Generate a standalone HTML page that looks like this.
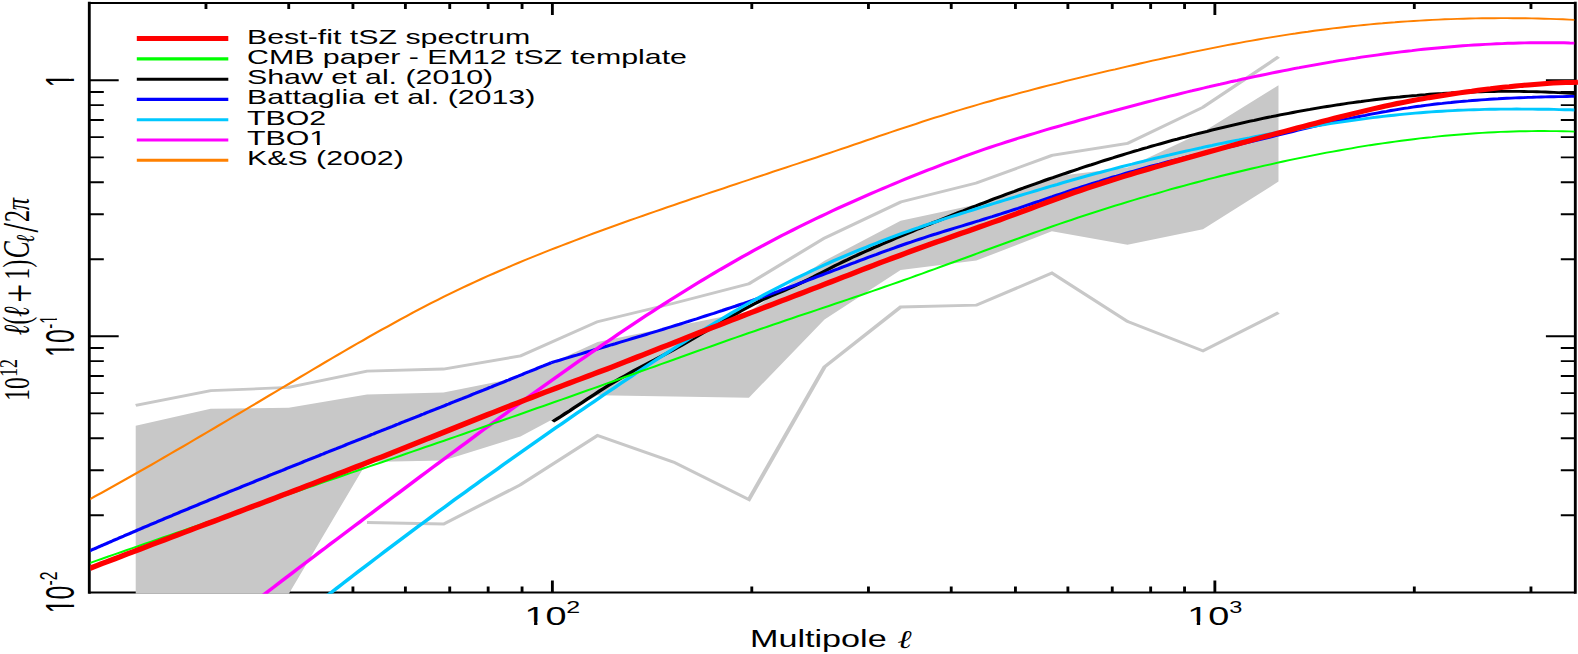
<!DOCTYPE html>
<html><head><meta charset="utf-8"><title>tSZ power spectrum</title>
<style>html,body{margin:0;padding:0;background:#fff;overflow:hidden}svg{display:block}text{font-family:"Liberation Sans",sans-serif;fill:#000}.m{font-family:"DejaVu Math TeX Gyre","DejaVu Serif",serif}.s{font-family:"Liberation Serif",serif}.si{font-family:"Liberation Serif",serif;font-style:italic}</style></head><body>
<svg width="1578" height="654" viewBox="0 0 1578 654">
<rect width="1578" height="654" fill="#fff"/>
<defs><clipPath id="k1"><path d="M-2,-20H30V-2.3H6.8V0.4H5.03V-2.3H-2Z"/></clipPath><clipPath id="k10"><path d="M-2,-20H30V0.6H11.2V-2.3H6.8V0.4H5.03V-2.3H-2Z"/></clipPath><clipPath id="ks1"><path d="M-2,-14H20V-1.45H8.34V0.3H7.25V-1.45H-2Z"/></clipPath><clipPath id="kt1"><path d="M-2,-20H60V-2.3H47.92V0.4H46.15V-2.3H41.5V0.6H-2Z"/></clipPath></defs>
<defs><clipPath id="c"><rect x="60.20" y="3.0" width="989.33" height="590.7"/></clipPath><clipPath id="c2"><rect x="60.20" y="3.0" width="992.47" height="590.7"/></clipPath></defs>
<g transform="scale(1.500,1)" fill="none">
<g stroke="#000" stroke-width="1.9">
<path d="M59.53,1.8V593.7M1050.20,1.8V593.7M137.31,3.0v6.0M137.31,592.5v-6.0M192.49,3.0v6.0M192.49,592.5v-6.0M235.29,3.0v6.0M235.29,592.5v-6.0M270.26,3.0v6.0M270.26,592.5v-6.0M299.83,3.0v6.0M299.83,592.5v-6.0M325.44,3.0v6.0M325.44,592.5v-6.0M348.04,3.0v6.0M348.04,592.5v-6.0M368.25,3.0v12.0M368.25,592.5v-12.0M501.20,3.0v6.0M501.20,592.5v-6.0M578.97,3.0v6.0M578.97,592.5v-6.0M634.15,3.0v6.0M634.15,592.5v-6.0M676.96,3.0v6.0M676.96,592.5v-6.0M711.93,3.0v6.0M711.93,592.5v-6.0M741.50,3.0v6.0M741.50,592.5v-6.0M767.11,3.0v6.0M767.11,592.5v-6.0M789.70,3.0v6.0M789.70,592.5v-6.0M809.91,3.0v12.0M809.91,592.5v-12.0M942.87,3.0v6.0M942.87,592.5v-6.0M1020.64,3.0v6.0M1020.64,592.5v-6.0M59.53,515.2h9.67M1050.20,515.2h-9.67M59.53,470.2h9.67M1050.20,470.2h-9.67M59.53,438.2h9.67M1050.20,438.2h-9.67M59.53,413.4h9.67M1050.20,413.4h-9.67M59.53,393.1h9.67M1050.20,393.1h-9.67M59.53,376.0h9.67M1050.20,376.0h-9.67M59.53,361.1h9.67M1050.20,361.1h-9.67M59.53,348.0h9.67M1050.20,348.0h-9.67M59.53,336.3h19.60M1050.20,336.3h-19.60M59.53,259.2h9.67M1050.20,259.2h-9.67M59.53,214.2h9.67M1050.20,214.2h-9.67M59.53,182.2h9.67M1050.20,182.2h-9.67M59.53,157.4h9.67M1050.20,157.4h-9.67M59.53,137.1h9.67M1050.20,137.1h-9.67M59.53,120.0h9.67M1050.20,120.0h-9.67M59.53,105.1h9.67M1050.20,105.1h-9.67M59.53,92.0h9.67M1050.20,92.0h-9.67M59.53,80.3h19.60M1050.20,80.3h-19.60"/>
<path stroke-width="2.2" d="M59.53,3.0H1050.20M59.53,592.5H1050.20"/>
</g>
<g clip-path="url(#c)">
<path d="M90.47,425.8 L140.48,408.8 L192.49,407.8 L244.65,394.5 L295.68,392.5 L346.97,377.2 L398.36,342.0 L449.19,326.5 L499.27,311.5 L549.67,260.8 L600.43,220.8 L650.90,204.6 L701.25,176.8 L751.64,167.4 L801.98,132.0 L852.33,85.2 L852.33,181.6 L801.98,229.2 L751.64,244.8 L701.25,231.2 L650.90,260.6 L600.43,270.0 L549.67,319.4 L499.27,397.7 L449.19,396.5 L398.36,395.2 L346.97,436.4 L295.68,460.4 L244.65,462.0 L192.49,594.0 L140.48,700.0 L90.47,700.0Z" fill="#c8c8c8"/>
<path d="M90.47,405.3 L140.48,390.7 L192.49,387.4 L244.65,371.1 L295.68,369.0 L346.97,355.9 L398.36,321.7 L449.19,303.2 L499.27,283.8 L549.67,238.0 L600.43,202.0 L650.90,183.0 L701.25,155.4 L751.64,143.4 L801.98,107.3 L852.33,56.8" stroke="#c8c8c8" stroke-width="2.8" stroke-linejoin="miter"/>
<path d="M244.65,522.5 L295.68,524.0 L346.97,484.8 L398.36,435.5 L449.19,462.2 L499.27,499.5 L549.67,366.9 L600.43,307.0 L650.90,305.2 L701.25,273.1 L751.64,321.5 L801.98,350.9 L852.33,312.6" stroke="#c8c8c8" stroke-width="2.8" stroke-linejoin="miter"/>
</g>
<path clip-path="url(#c)" d="M368.47,421.5 L371.32,418.9 L374.17,416.2 L377.02,413.4 L379.88,410.7 L382.73,407.8 L385.58,405.0 L388.43,402.2 L391.29,399.3 L394.14,396.5 L396.99,393.7 L399.84,390.9 L402.70,388.2 L405.55,385.5 L408.40,382.9 L411.25,380.4 L414.11,377.9 L416.96,375.5 L419.81,373.1 L422.66,370.7 L425.52,368.4 L428.37,366.1 L431.22,363.9 L434.07,361.6 L436.93,359.4 L439.78,357.1 L442.63,354.9 L445.48,352.6 L448.34,350.3 L451.19,347.9 L454.04,345.6 L456.89,343.2 L459.74,340.7 L462.60,338.2 L465.45,335.7 L468.30,333.2 L471.15,330.7 L474.01,328.2 L476.86,325.6 L479.71,323.1 L482.56,320.6 L485.42,318.2 L488.27,315.7 L491.12,313.3 L493.97,310.9 L496.83,308.6 L499.68,306.3 L502.53,304.1 L505.38,302.0 L508.24,299.9 L511.09,298.0 L513.94,296.1 L516.79,294.2 L519.65,292.5 L522.50,290.7 L525.35,288.9 L528.20,287.0 L531.06,285.1 L533.91,283.0 L536.76,280.9 L539.61,278.8 L542.47,276.7 L545.32,274.5 L548.17,272.3 L551.02,270.1 L553.88,267.9 L556.73,265.7 L559.58,263.6 L562.43,261.5 L565.29,259.5 L568.14,257.4 L570.99,255.5 L573.84,253.5 L576.69,251.6 L579.55,249.7 L582.40,247.8 L585.25,246.0 L588.10,244.1 L590.96,242.3 L593.81,240.5 L596.66,238.6 L599.51,236.8 L602.37,235.0 L605.22,233.2 L608.07,231.4 L610.92,229.6 L613.78,227.9 L616.63,226.1 L619.48,224.4 L622.33,222.6 L625.19,220.9 L628.04,219.2 L630.89,217.4 L633.74,215.7 L636.60,214.0 L639.45,212.3 L642.30,210.7 L645.15,209.0 L648.01,207.3 L650.86,205.7 L653.71,204.0 L656.56,202.4 L659.42,200.8 L662.27,199.1 L665.12,197.5 L667.97,195.9 L670.83,194.3 L673.68,192.7 L676.53,191.2 L679.38,189.6 L682.24,188.1 L685.09,186.5 L687.94,185.0 L690.79,183.5 L693.64,181.9 L696.50,180.4 L699.35,178.9 L702.20,177.5 L705.05,176.0 L707.91,174.5 L710.76,173.1 L713.61,171.6 L716.46,170.2 L719.32,168.8 L722.17,167.3 L725.02,165.9 L727.87,164.6 L730.73,163.2 L733.58,161.8 L736.43,160.4 L739.28,159.1 L742.14,157.8 L744.99,156.4 L747.84,155.1 L750.69,153.8 L753.55,152.5 L756.40,151.2 L759.25,150.0 L762.10,148.7 L764.96,147.5 L767.81,146.2 L770.66,145.0 L773.51,143.8 L776.37,142.6 L779.22,141.4 L782.07,140.2 L784.92,139.1 L787.78,137.9 L790.63,136.8 L793.48,135.6 L796.33,134.5 L799.19,133.4 L802.04,132.3 L804.89,131.3 L807.74,130.2 L810.59,129.1 L813.45,128.1 L816.30,127.1 L819.15,126.1 L822.00,125.1 L824.86,124.1 L827.71,123.1 L830.56,122.1 L833.41,121.2 L836.27,120.3 L839.12,119.3 L841.97,118.4 L844.82,117.5 L847.68,116.7 L850.53,115.8 L853.38,114.9 L856.23,114.1 L859.09,113.3 L861.94,112.5 L864.79,111.7 L867.64,110.9 L870.50,110.1 L873.35,109.4 L876.20,108.6 L879.05,107.9 L881.91,107.2 L884.76,106.5 L887.61,105.8 L890.46,105.1 L893.32,104.5 L896.17,103.8 L899.02,103.2 L901.87,102.6 L904.73,102.0 L907.58,101.5 L910.43,100.9 L913.28,100.3 L916.14,99.8 L918.99,99.3 L921.84,98.8 L924.69,98.3 L927.55,97.8 L930.40,97.4 L933.25,97.0 L936.10,96.5 L938.95,96.1 L941.81,95.7 L944.66,95.4 L947.51,95.0 L950.36,94.7 L953.22,94.3 L956.07,94.0 L958.92,93.7 L961.77,93.5 L964.63,93.2 L967.48,93.0 L970.33,92.7 L973.18,92.5 L976.04,92.3 L978.89,92.2 L981.74,92.0 L984.59,91.9 L987.45,91.8 L990.30,91.6 L993.15,91.6 L996.00,91.5 L998.86,91.4 L1001.71,91.4 L1004.56,91.4 L1007.41,91.4 L1010.27,91.4 L1013.12,91.4 L1015.97,91.5 L1018.82,91.6 L1021.68,91.6 L1024.53,91.7 L1027.38,91.9 L1030.23,92.0 L1033.09,92.2 L1035.94,92.4 L1038.79,92.6 L1041.64,92.8 L1044.50,93.0 L1047.35,93.3 L1050.20,93.5" stroke="#000" stroke-width="2.9"/>
<path clip-path="url(#c)" d="M59.53,551.0 L60.82,550.1 L62.11,549.3 L63.40,548.5 L64.69,547.6 L65.98,546.8 L67.27,545.9 L68.56,545.1 L69.85,544.2 L71.13,543.4 L72.42,542.6 L73.71,541.7 L75.00,540.9 L76.29,540.0 L77.58,539.2 L78.87,538.4 L80.16,537.5 L81.45,536.7 L82.74,535.9 L84.02,535.0 L85.31,534.2 L86.60,533.4 L87.89,532.6 L89.18,531.7 L90.47,530.9 L91.76,530.1 L93.05,529.3 L94.34,528.4 L95.62,527.6 L96.91,526.8 L98.20,526.0 L99.49,525.1 L100.78,524.3 L102.07,523.5 L103.36,522.7 L104.65,521.9 L105.94,521.0 L107.23,520.2 L108.51,519.4 L109.80,518.6 L111.09,517.8 L112.38,517.0 L113.67,516.2 L114.96,515.4 L116.25,514.5 L117.54,513.7 L118.83,512.9 L120.12,512.1 L121.40,511.3 L122.69,510.5 L123.98,509.7 L125.27,508.9 L126.56,508.1 L127.85,507.3 L129.14,506.5 L130.43,505.7 L131.72,504.9 L133.01,504.1 L134.29,503.3 L135.58,502.5 L136.87,501.7 L138.16,500.9 L139.45,500.1 L140.74,499.3 L142.03,498.5 L143.32,497.7 L144.61,496.9 L145.90,496.1 L147.18,495.3 L148.47,494.5 L149.76,493.7 L151.05,492.9 L152.34,492.1 L153.63,491.3 L154.92,490.5 L156.21,489.8 L157.50,489.0 L158.78,488.2 L160.07,487.4 L161.36,486.6 L162.65,485.8 L163.94,485.0 L165.23,484.2 L166.52,483.5 L167.81,482.7 L169.10,481.9 L170.39,481.1 L171.67,480.3 L172.96,479.5 L174.25,478.7 L175.54,478.0 L176.83,477.2 L178.12,476.4 L179.41,475.6 L180.70,474.8 L181.99,474.1 L183.28,473.3 L184.56,472.5 L185.85,471.7 L187.14,470.9 L188.43,470.2 L189.72,469.4 L191.01,468.6 L192.30,467.8 L193.59,467.0 L194.88,466.3 L196.17,465.5 L197.45,464.7 L198.74,463.9 L200.03,463.2 L201.32,462.4 L202.61,461.6 L203.90,460.8 L205.19,460.1 L206.48,459.3 L207.77,458.5 L209.06,457.7 L210.34,457.0 L211.63,456.2 L212.92,455.4 L214.21,454.6 L215.50,453.9 L216.79,453.1 L218.08,452.3 L219.37,451.6 L220.66,450.8 L221.95,450.0 L223.23,449.2 L224.52,448.5 L225.81,447.7 L227.10,446.9 L228.39,446.2 L229.68,445.4 L230.97,444.6 L232.26,443.8 L233.55,443.1 L234.83,442.3 L236.12,441.5 L237.41,440.8 L238.70,440.0 L239.99,439.2 L241.28,438.5 L242.57,437.7 L243.86,436.9 L245.15,436.2 L246.44,435.4 L247.72,434.6 L249.01,433.9 L250.30,433.1 L251.59,432.3 L252.88,431.5 L254.17,430.8 L255.46,430.0 L256.75,429.2 L258.04,428.5 L259.33,427.7 L260.61,426.9 L261.90,426.2 L263.19,425.4 L264.48,424.6 L265.77,423.9 L267.06,423.1 L268.35,422.3 L269.64,421.6 L270.93,420.8 L272.22,420.0 L273.50,419.3 L274.79,418.5 L276.08,417.7 L277.37,417.0 L278.66,416.2 L279.95,415.4 L281.24,414.6 L282.53,413.9 L283.82,413.1 L285.11,412.3 L286.39,411.6 L287.68,410.8 L288.97,410.0 L290.26,409.3 L291.55,408.5 L292.84,407.7 L294.13,407.0 L295.42,406.2 L296.71,405.4 L297.99,404.6 L299.28,403.9 L300.57,403.1 L301.86,402.3 L303.15,401.6 L304.44,400.8 L305.73,400.0 L307.02,399.2 L308.31,398.5 L309.60,397.7 L310.88,396.9 L312.17,396.2 L313.46,395.4 L314.75,394.6 L316.04,393.8 L317.33,393.1 L318.62,392.3 L319.91,391.5 L321.20,390.7 L322.49,390.0 L323.77,389.2 L325.06,388.4 L326.35,387.6 L327.64,386.9 L328.93,386.1 L330.22,385.3 L331.51,384.5 L332.80,383.8 L334.09,383.0 L335.38,382.2 L336.66,381.4 L337.95,380.6 L339.24,379.9 L340.53,379.1 L341.82,378.3 L343.11,377.5 L344.40,376.7 L345.69,376.0 L346.98,375.2 L348.27,374.4 L349.55,373.6 L350.84,372.8 L352.13,372.0 L353.42,371.3 L354.71,370.5 L356.00,369.7 L357.29,368.9 L358.58,368.1 L359.87,367.3 L361.16,366.5 L362.44,365.8 L363.73,365.0 L365.02,364.2 L366.31,363.4 L367.60,362.6" stroke="#0000ff" stroke-width="2.9"/>
<path clip-path="url(#c)" d="M367.60,362.6 L370.46,361.3 L373.31,360.1 L376.17,358.8 L379.02,357.5 L381.88,356.2 L384.74,355.0 L387.59,353.7 L390.45,352.4 L393.30,351.2 L396.16,349.9 L399.02,348.6 L401.87,347.4 L404.73,346.1 L407.58,344.8 L410.44,343.6 L413.30,342.3 L416.15,341.0 L419.01,339.7 L421.87,338.4 L424.72,337.1 L427.58,335.9 L430.43,334.6 L433.29,333.3 L436.15,332.0 L439.00,330.7 L441.86,329.4 L444.71,328.0 L447.57,326.7 L450.43,325.4 L453.28,324.1 L456.14,322.7 L458.99,321.4 L461.85,320.0 L464.71,318.7 L467.56,317.3 L470.42,315.9 L473.27,314.5 L476.13,313.2 L478.99,311.8 L481.84,310.4 L484.70,308.9 L487.55,307.5 L490.41,306.1 L493.27,304.6 L496.12,303.2 L498.98,301.7 L501.84,300.3 L504.69,298.8 L507.55,297.3 L510.40,295.8 L513.26,294.2 L516.12,292.7 L518.97,291.2 L521.83,289.6 L524.68,288.1 L527.54,286.5 L530.40,284.9 L533.25,283.3 L536.11,281.7 L538.96,280.1 L541.82,278.4 L544.68,276.8 L547.53,275.2 L550.39,273.6 L553.24,271.9 L556.10,270.3 L558.96,268.7 L561.81,267.0 L564.67,265.4 L567.52,263.8 L570.38,262.2 L573.24,260.5 L576.09,258.9 L578.95,257.3 L581.81,255.7 L584.66,254.2 L587.52,252.6 L590.37,251.0 L593.23,249.5 L596.09,247.9 L598.94,246.4 L601.80,244.9 L604.65,243.4 L607.51,242.0 L610.37,240.5 L613.22,239.1 L616.08,237.7 L618.93,236.3 L621.79,234.9 L624.65,233.6 L627.50,232.2 L630.36,230.9 L633.21,229.6 L636.07,228.3 L638.93,227.0 L641.78,225.7 L644.64,224.4 L647.49,223.1 L650.35,221.8 L653.21,220.5 L656.06,219.1 L658.92,217.8 L661.77,216.5 L664.63,215.1 L667.49,213.8 L670.34,212.4 L673.20,211.0 L676.06,209.6 L678.91,208.2 L681.77,206.7 L684.62,205.3 L687.48,203.9 L690.34,202.4 L693.19,201.0 L696.05,199.5 L698.90,198.0 L701.76,196.6 L704.62,195.1 L707.47,193.7 L710.33,192.3 L713.18,190.8 L716.04,189.4 L718.90,188.0 L721.75,186.6 L724.61,185.2 L727.46,183.9 L730.32,182.5 L733.18,181.2 L736.03,179.8 L738.89,178.5 L741.74,177.2 L744.60,176.0 L747.46,174.7 L750.31,173.4 L753.17,172.2 L756.03,171.0 L758.88,169.8 L761.74,168.6 L764.59,167.4 L767.45,166.2 L770.31,165.1 L773.16,164.0 L776.02,162.8 L778.87,161.7 L781.73,160.6 L784.59,159.6 L787.44,158.5 L790.30,157.4 L793.15,156.4 L796.01,155.3 L798.87,154.3 L801.72,153.3 L804.58,152.2 L807.43,151.2 L810.29,150.2 L813.15,149.2 L816.00,148.1 L818.86,147.1 L821.71,146.1 L824.57,145.1 L827.43,144.0 L830.28,143.0 L833.14,142.0 L835.99,140.9 L838.85,139.9 L841.71,138.9 L844.56,137.8 L847.42,136.8 L850.28,135.7 L853.13,134.7 L855.99,133.6 L858.84,132.6 L861.70,131.6 L864.56,130.5 L867.41,129.5 L870.27,128.5 L873.12,127.5 L875.98,126.5 L878.84,125.5 L881.69,124.5 L884.55,123.5 L887.40,122.5 L890.26,121.6 L893.12,120.6 L895.97,119.7 L898.83,118.8 L901.68,117.9 L904.54,117.0 L907.40,116.1 L910.25,115.3 L913.11,114.4 L915.96,113.6 L918.82,112.8 L921.68,112.0 L924.53,111.3 L927.39,110.5 L930.25,109.8 L933.10,109.1 L935.96,108.4 L938.81,107.8 L941.67,107.1 L944.53,106.5 L947.38,106.0 L950.24,105.4 L953.09,104.8 L955.95,104.3 L958.81,103.8 L961.66,103.4 L964.52,102.9 L967.37,102.5 L970.23,102.0 L973.09,101.6 L975.94,101.2 L978.80,100.9 L981.65,100.5 L984.51,100.2 L987.37,99.9 L990.22,99.6 L993.08,99.3 L995.93,99.0 L998.79,98.8 L1001.65,98.5 L1004.50,98.3 L1007.36,98.1 L1010.22,97.9 L1013.07,97.7 L1015.93,97.6 L1018.78,97.4 L1021.64,97.3 L1024.50,97.1 L1027.35,97.0 L1030.21,96.9 L1033.06,96.8 L1035.92,96.7 L1038.78,96.6 L1041.63,96.6 L1044.49,96.5 L1047.34,96.4 L1050.20,96.4" stroke="#0000ff" stroke-width="2.9"/>
<path clip-path="url(#c)" d="M200.00,617.0 L203.56,612.8 L207.11,608.6 L210.67,604.4 L214.23,600.2 L217.79,596.0 L221.34,591.9 L224.90,587.7 L228.46,583.6 L232.02,579.5 L235.57,575.4 L239.13,571.3 L242.69,567.2 L246.25,563.2 L249.80,559.1 L253.36,555.1 L256.92,551.0 L260.47,547.0 L264.03,543.0 L267.59,539.0 L271.15,535.0 L274.70,531.0 L278.26,527.1 L281.82,523.1 L285.38,519.2 L288.93,515.2 L292.49,511.3 L296.05,507.4 L299.61,503.5 L303.16,499.6 L306.72,495.7 L310.28,491.9 L313.83,488.0 L317.39,484.2 L320.95,480.3 L324.51,476.5 L328.06,472.7 L331.62,468.9 L335.18,465.1 L338.74,461.3 L342.29,457.5 L345.85,453.7 L349.41,449.9 L352.96,446.2 L356.52,442.4 L360.08,438.7 L363.64,435.0 L367.19,431.3 L370.75,427.6 L374.31,423.9 L377.87,420.2 L381.42,416.5 L384.98,412.8 L388.54,409.2 L392.10,405.5 L395.65,401.9 L399.21,398.2 L402.77,394.6 L406.32,391.0 L409.88,387.4 L413.44,383.8 L417.00,380.2 L420.55,376.7 L424.11,373.1 L427.67,369.6 L431.23,366.0 L434.78,362.5 L438.34,359.0 L441.90,355.6 L445.46,352.1 L449.01,348.7 L452.57,345.3 L456.13,341.9 L459.68,338.5 L463.24,335.2 L466.80,331.9 L470.36,328.6 L473.91,325.4 L477.47,322.1 L481.03,319.0 L484.59,315.8 L488.14,312.7 L491.70,309.6 L495.26,306.5 L498.82,303.5 L502.37,300.5 L505.93,297.6 L509.49,294.7 L513.04,291.9 L516.60,289.1 L520.16,286.3 L523.72,283.6 L527.27,280.9 L530.83,278.2 L534.39,275.6 L537.95,273.1 L541.50,270.5 L545.06,268.1 L548.62,265.6 L552.17,263.2 L555.73,260.8 L559.29,258.5 L562.85,256.2 L566.40,254.0 L569.96,251.7 L573.52,249.5 L577.08,247.4 L580.63,245.2 L584.19,243.2 L587.75,241.1 L591.31,239.1 L594.86,237.1 L598.42,235.1 L601.98,233.1 L605.53,231.2 L609.09,229.3 L612.65,227.5 L616.21,225.6 L619.76,223.8 L623.32,222.1 L626.88,220.3 L630.44,218.5 L633.99,216.8 L637.55,215.1 L641.11,213.4 L644.67,211.8 L648.22,210.1 L651.78,208.4 L655.34,206.8 L658.89,205.1 L662.45,203.5 L666.01,201.9 L669.57,200.3 L673.12,198.6 L676.68,197.0 L680.24,195.4 L683.80,193.8 L687.35,192.2 L690.91,190.6 L694.47,189.0 L698.03,187.4 L701.58,185.8 L705.14,184.3 L708.70,182.7 L712.25,181.2 L715.81,179.7 L719.37,178.2 L722.93,176.7 L726.48,175.2 L730.04,173.7 L733.60,172.3 L737.16,170.9 L740.71,169.5 L744.27,168.1 L747.83,166.7 L751.38,165.3 L754.94,164.0 L758.50,162.6 L762.06,161.3 L765.61,160.0 L769.17,158.7 L772.73,157.4 L776.29,156.1 L779.84,154.9 L783.40,153.6 L786.96,152.4 L790.52,151.2 L794.07,150.0 L797.63,148.8 L801.19,147.7 L804.74,146.5 L808.30,145.4 L811.86,144.2 L815.42,143.1 L818.97,142.0 L822.53,140.9 L826.09,139.9 L829.65,138.8 L833.20,137.8 L836.76,136.7 L840.32,135.7 L843.88,134.7 L847.43,133.7 L850.99,132.7 L854.55,131.8 L858.10,130.8 L861.66,129.9 L865.22,129.0 L868.78,128.1 L872.33,127.2 L875.89,126.3 L879.45,125.4 L883.01,124.6 L886.56,123.7 L890.12,122.9 L893.68,122.1 L897.24,121.3 L900.79,120.5 L904.35,119.8 L907.91,119.1 L911.46,118.4 L915.02,117.7 L918.58,117.0 L922.14,116.4 L925.69,115.8 L929.25,115.2 L932.81,114.6 L936.37,114.1 L939.92,113.6 L943.48,113.1 L947.04,112.7 L950.59,112.3 L954.15,111.9 L957.71,111.5 L961.27,111.2 L964.82,110.9 L968.38,110.6 L971.94,110.3 L975.50,110.1 L979.05,109.9 L982.61,109.7 L986.17,109.6 L989.73,109.4 L993.28,109.3 L996.84,109.2 L1000.40,109.1 L1003.95,109.1 L1007.51,109.1 L1011.07,109.0 L1014.63,109.1 L1018.18,109.1 L1021.74,109.1 L1025.30,109.2 L1028.86,109.2 L1032.41,109.3 L1035.97,109.4 L1039.53,109.6 L1043.09,109.7 L1046.64,109.8 L1050.20,110.0" stroke="#00c8ff" stroke-width="2.9"/>
<path clip-path="url(#c)" d="M59.53,499.5 L63.68,496.1 L67.82,492.7 L71.97,489.2 L76.11,485.8 L80.26,482.3 L84.40,478.8 L88.55,475.3 L92.69,471.8 L96.84,468.2 L100.98,464.7 L105.13,461.1 L109.27,457.5 L113.42,453.9 L117.56,450.3 L121.71,446.7 L125.85,443.1 L130.00,439.4 L134.14,435.8 L138.29,432.1 L142.43,428.5 L146.58,424.8 L150.72,421.1 L154.87,417.4 L159.01,413.7 L163.16,410.1 L167.30,406.4 L171.45,402.7 L175.59,399.0 L179.74,395.3 L183.88,391.6 L188.03,387.9 L192.17,384.2 L196.32,380.5 L200.46,376.8 L204.61,373.1 L208.76,369.4 L212.90,365.7 L217.05,362.0 L221.19,358.4 L225.34,354.7 L229.48,351.1 L233.63,347.5 L237.77,343.9 L241.92,340.4 L246.06,336.8 L250.21,333.3 L254.35,329.8 L258.50,326.4 L262.64,322.9 L266.79,319.5 L270.93,316.2 L275.08,312.8 L279.22,309.6 L283.37,306.3 L287.51,303.1 L291.66,300.0 L295.80,296.8 L299.95,293.8 L304.09,290.8 L308.24,287.8 L312.38,284.9 L316.53,282.0 L320.67,279.1 L324.82,276.3 L328.96,273.6 L333.11,270.9 L337.25,268.2 L341.40,265.5 L345.54,262.9 L349.69,260.3 L353.83,257.8 L357.98,255.3 L362.12,252.8 L366.27,250.3 L370.41,247.9 L374.56,245.5 L378.70,243.1 L382.85,240.7 L386.99,238.4 L391.14,236.0 L395.28,233.7 L399.43,231.4 L403.57,229.2 L407.72,226.9 L411.86,224.7 L416.01,222.4 L420.15,220.2 L424.30,218.0 L428.44,215.8 L432.59,213.7 L436.73,211.5 L440.88,209.3 L445.02,207.2 L449.17,205.1 L453.31,202.9 L457.46,200.8 L461.60,198.7 L465.75,196.6 L469.89,194.5 L474.04,192.4 L478.18,190.3 L482.33,188.3 L486.47,186.2 L490.62,184.1 L494.76,182.0 L498.91,180.0 L503.05,177.9 L507.20,175.9 L511.34,173.8 L515.49,171.7 L519.63,169.7 L523.78,167.6 L527.92,165.5 L532.07,163.5 L536.21,161.4 L540.36,159.3 L544.50,157.3 L548.65,155.2 L552.79,153.1 L556.94,151.0 L561.08,148.9 L565.23,146.8 L569.37,144.7 L573.52,142.6 L577.66,140.4 L581.81,138.3 L585.95,136.2 L590.10,134.1 L594.24,132.0 L598.39,129.9 L602.53,127.9 L606.68,125.8 L610.82,123.8 L614.97,121.7 L619.11,119.7 L623.26,117.7 L627.41,115.8 L631.55,113.8 L635.70,111.9 L639.84,110.0 L643.99,108.2 L648.13,106.3 L652.28,104.5 L656.42,102.7 L660.57,101.0 L664.71,99.2 L668.86,97.5 L673.00,95.8 L677.15,94.1 L681.29,92.4 L685.44,90.8 L689.58,89.1 L693.73,87.5 L697.87,85.9 L702.02,84.3 L706.16,82.8 L710.31,81.2 L714.45,79.7 L718.60,78.2 L722.74,76.6 L726.89,75.1 L731.03,73.7 L735.18,72.2 L739.32,70.7 L743.47,69.3 L747.61,67.8 L751.76,66.4 L755.90,65.0 L760.05,63.5 L764.19,62.1 L768.34,60.7 L772.48,59.4 L776.63,58.0 L780.77,56.6 L784.92,55.3 L789.06,54.0 L793.21,52.7 L797.35,51.4 L801.50,50.1 L805.64,48.8 L809.79,47.6 L813.93,46.4 L818.08,45.2 L822.22,44.0 L826.37,42.8 L830.51,41.7 L834.66,40.6 L838.80,39.5 L842.95,38.4 L847.09,37.4 L851.24,36.4 L855.38,35.4 L859.53,34.4 L863.67,33.5 L867.82,32.5 L871.96,31.7 L876.11,30.8 L880.25,30.0 L884.40,29.2 L888.54,28.4 L892.69,27.7 L896.83,27.0 L900.98,26.3 L905.12,25.6 L909.27,25.0 L913.41,24.4 L917.56,23.8 L921.70,23.3 L925.85,22.7 L929.99,22.3 L934.14,21.8 L938.28,21.4 L942.43,21.0 L946.57,20.6 L950.72,20.2 L954.86,19.9 L959.01,19.6 L963.15,19.3 L967.30,19.1 L971.44,18.9 L975.59,18.7 L979.73,18.5 L983.88,18.4 L988.02,18.3 L992.17,18.2 L996.31,18.2 L1000.46,18.1 L1004.60,18.1 L1008.75,18.2 L1012.89,18.2 L1017.04,18.3 L1021.18,18.4 L1025.33,18.5 L1029.47,18.7 L1033.62,18.9 L1037.76,19.1 L1041.91,19.3 L1046.05,19.6 L1050.20,19.9" stroke="#ff8000" stroke-width="1.9"/>
<path clip-path="url(#c)" d="M153.33,621.0 L157.09,616.6 L160.84,612.2 L164.59,607.8 L168.34,603.5 L172.10,599.1 L175.85,594.8 L179.60,590.4 L183.35,586.1 L187.11,581.8 L190.86,577.5 L194.61,573.2 L198.36,568.9 L202.12,564.6 L205.87,560.4 L209.62,556.1 L213.37,551.8 L217.13,547.6 L220.88,543.3 L224.63,539.1 L228.38,534.9 L232.14,530.6 L235.89,526.4 L239.64,522.2 L243.40,517.9 L247.15,513.7 L250.90,509.5 L254.65,505.3 L258.41,501.1 L262.16,496.9 L265.91,492.7 L269.66,488.5 L273.42,484.3 L277.17,480.0 L280.92,475.8 L284.67,471.6 L288.43,467.4 L292.18,463.3 L295.93,459.1 L299.68,454.9 L303.44,450.7 L307.19,446.5 L310.94,442.4 L314.69,438.2 L318.45,434.1 L322.20,429.9 L325.95,425.8 L329.70,421.6 L333.46,417.5 L337.21,413.4 L340.96,409.3 L344.71,405.2 L348.47,401.2 L352.22,397.1 L355.97,393.0 L359.73,389.0 L363.48,385.0 L367.23,381.0 L370.98,377.0 L374.74,373.0 L378.49,369.0 L382.24,365.0 L385.99,361.1 L389.75,357.2 L393.50,353.3 L397.25,349.4 L401.00,345.5 L404.76,341.7 L408.51,337.9 L412.26,334.0 L416.01,330.3 L419.77,326.5 L423.52,322.8 L427.27,319.0 L431.02,315.3 L434.78,311.7 L438.53,308.0 L442.28,304.4 L446.03,300.8 L449.79,297.3 L453.54,293.7 L457.29,290.2 L461.04,286.8 L464.80,283.3 L468.55,279.9 L472.30,276.5 L476.06,273.2 L479.81,269.8 L483.56,266.6 L487.31,263.3 L491.07,260.1 L494.82,256.9 L498.57,253.8 L502.32,250.7 L506.08,247.6 L509.83,244.6 L513.58,241.6 L517.33,238.6 L521.09,235.7 L524.84,232.8 L528.59,230.0 L532.34,227.2 L536.10,224.4 L539.85,221.6 L543.60,218.9 L547.35,216.2 L551.11,213.6 L554.86,210.9 L558.61,208.3 L562.36,205.8 L566.12,203.2 L569.87,200.7 L573.62,198.2 L577.37,195.7 L581.13,193.3 L584.88,190.9 L588.63,188.5 L592.39,186.1 L596.14,183.8 L599.89,181.4 L603.64,179.1 L607.40,176.8 L611.15,174.6 L614.90,172.3 L618.65,170.1 L622.41,167.9 L626.16,165.7 L629.91,163.6 L633.66,161.5 L637.42,159.4 L641.17,157.3 L644.92,155.3 L648.67,153.3 L652.43,151.3 L656.18,149.3 L659.93,147.4 L663.68,145.5 L667.44,143.7 L671.19,141.9 L674.94,140.1 L678.69,138.3 L682.45,136.6 L686.20,134.9 L689.95,133.2 L693.70,131.5 L697.46,129.8 L701.21,128.2 L704.96,126.6 L708.72,125.0 L712.47,123.4 L716.22,121.8 L719.97,120.2 L723.73,118.6 L727.48,117.0 L731.23,115.5 L734.98,113.9 L738.74,112.4 L742.49,110.9 L746.24,109.3 L749.99,107.8 L753.75,106.3 L757.50,104.8 L761.25,103.4 L765.00,101.9 L768.76,100.5 L772.51,99.0 L776.26,97.6 L780.01,96.2 L783.77,94.8 L787.52,93.4 L791.27,92.0 L795.02,90.7 L798.78,89.3 L802.53,88.0 L806.28,86.7 L810.03,85.3 L813.79,84.1 L817.54,82.8 L821.29,81.5 L825.05,80.3 L828.80,79.0 L832.55,77.8 L836.30,76.6 L840.06,75.5 L843.81,74.3 L847.56,73.1 L851.31,72.0 L855.07,70.9 L858.82,69.8 L862.57,68.7 L866.32,67.7 L870.08,66.6 L873.83,65.6 L877.58,64.6 L881.33,63.6 L885.09,62.6 L888.84,61.7 L892.59,60.7 L896.34,59.8 L900.10,58.9 L903.85,58.1 L907.60,57.2 L911.35,56.4 L915.11,55.6 L918.86,54.8 L922.61,54.0 L926.36,53.3 L930.12,52.6 L933.87,51.9 L937.62,51.2 L941.38,50.6 L945.13,49.9 L948.88,49.3 L952.63,48.7 L956.39,48.2 L960.14,47.7 L963.89,47.2 L967.64,46.7 L971.40,46.2 L975.15,45.8 L978.90,45.4 L982.65,45.0 L986.41,44.7 L990.16,44.4 L993.91,44.1 L997.66,43.8 L1001.42,43.6 L1005.17,43.3 L1008.92,43.2 L1012.67,43.0 L1016.43,42.9 L1020.18,42.8 L1023.93,42.7 L1027.68,42.7 L1031.44,42.7 L1035.19,42.7 L1038.94,42.8 L1042.69,42.8 L1046.45,43.0 L1050.20,43.1" stroke="#ff00ff" stroke-width="2.9"/>
<path clip-path="url(#c)" d="M59.53,563.2 L63.68,561.0 L67.82,558.9 L71.97,556.7 L76.11,554.5 L80.26,552.4 L84.40,550.2 L88.55,548.0 L92.69,545.9 L96.84,543.7 L100.98,541.6 L105.13,539.4 L109.27,537.2 L113.42,535.1 L117.56,532.9 L121.71,530.8 L125.85,528.6 L130.00,526.5 L134.14,524.3 L138.29,522.2 L142.43,520.1 L146.58,517.9 L150.72,515.8 L154.87,513.6 L159.01,511.5 L163.16,509.3 L167.30,507.2 L171.45,505.1 L175.59,502.9 L179.74,500.8 L183.88,498.6 L188.03,496.5 L192.17,494.4 L196.32,492.2 L200.46,490.1 L204.61,487.9 L208.76,485.8 L212.90,483.7 L217.05,481.5 L221.19,479.4 L225.34,477.3 L229.48,475.1 L233.63,473.0 L237.77,470.8 L241.92,468.7 L246.06,466.5 L250.21,464.4 L254.35,462.3 L258.50,460.1 L262.64,458.0 L266.79,455.8 L270.93,453.7 L275.08,451.5 L279.22,449.4 L283.37,447.2 L287.51,445.1 L291.66,442.9 L295.80,440.8 L299.95,438.6 L304.09,436.5 L308.24,434.3 L312.38,432.1 L316.53,430.0 L320.67,427.8 L324.82,425.6 L328.96,423.5 L333.11,421.3 L337.25,419.1 L341.40,417.0 L345.54,414.8 L349.69,412.6 L353.83,410.4 L357.98,408.2 L362.12,406.1 L366.27,403.9 L370.41,401.7 L374.56,399.5 L378.70,397.3 L382.85,395.1 L386.99,392.9 L391.14,390.7 L395.28,388.5 L399.43,386.3 L403.57,384.0 L407.72,381.8 L411.86,379.6 L416.01,377.4 L420.15,375.2 L424.30,372.9 L428.44,370.7 L432.59,368.5 L436.73,366.3 L440.88,364.0 L445.02,361.8 L449.17,359.6 L453.31,357.4 L457.46,355.1 L461.60,352.9 L465.75,350.7 L469.89,348.5 L474.04,346.3 L478.18,344.1 L482.33,341.9 L486.47,339.7 L490.62,337.5 L494.76,335.4 L498.91,333.2 L503.05,331.1 L507.20,328.9 L511.34,326.8 L515.49,324.7 L519.63,322.6 L523.78,320.4 L527.92,318.3 L532.07,316.2 L536.21,314.2 L540.36,312.1 L544.50,310.0 L548.65,307.9 L552.79,305.8 L556.94,303.7 L561.08,301.6 L565.23,299.5 L569.37,297.4 L573.52,295.3 L577.66,293.1 L581.81,291.0 L585.95,288.9 L590.10,286.7 L594.24,284.5 L598.39,282.4 L602.53,280.2 L606.68,278.0 L610.82,275.7 L614.97,273.5 L619.11,271.2 L623.26,269.0 L627.41,266.7 L631.55,264.4 L635.70,262.1 L639.84,259.9 L643.99,257.6 L648.13,255.3 L652.28,253.0 L656.42,250.7 L660.57,248.4 L664.71,246.1 L668.86,243.9 L673.00,241.6 L677.15,239.3 L681.29,237.1 L685.44,234.9 L689.58,232.7 L693.73,230.5 L697.87,228.3 L702.02,226.1 L706.16,224.0 L710.31,221.9 L714.45,219.8 L718.60,217.7 L722.74,215.7 L726.89,213.6 L731.03,211.6 L735.18,209.6 L739.32,207.7 L743.47,205.7 L747.61,203.8 L751.76,201.9 L755.90,200.0 L760.05,198.2 L764.19,196.4 L768.34,194.5 L772.48,192.8 L776.63,191.0 L780.77,189.2 L784.92,187.5 L789.06,185.8 L793.21,184.1 L797.35,182.5 L801.50,180.8 L805.64,179.2 L809.79,177.6 L813.93,176.0 L818.08,174.5 L822.22,173.0 L826.37,171.5 L830.51,170.0 L834.66,168.5 L838.80,167.1 L842.95,165.7 L847.09,164.3 L851.24,162.9 L855.38,161.5 L859.53,160.2 L863.67,158.9 L867.82,157.6 L871.96,156.4 L876.11,155.1 L880.25,153.9 L884.40,152.7 L888.54,151.6 L892.69,150.5 L896.83,149.4 L900.98,148.3 L905.12,147.2 L909.27,146.2 L913.41,145.2 L917.56,144.3 L921.70,143.4 L925.85,142.5 L929.99,141.6 L934.14,140.8 L938.28,140.0 L942.43,139.2 L946.57,138.4 L950.72,137.7 L954.86,137.1 L959.01,136.4 L963.15,135.8 L967.30,135.2 L971.44,134.7 L975.59,134.2 L979.73,133.7 L983.88,133.3 L988.02,132.9 L992.17,132.5 L996.31,132.2 L1000.46,131.9 L1004.60,131.7 L1008.75,131.5 L1012.89,131.3 L1017.04,131.2 L1021.18,131.1 L1025.33,131.0 L1029.47,131.0 L1033.62,131.1 L1037.76,131.1 L1041.91,131.2 L1046.05,131.4 L1050.20,131.6" stroke="#00ff00" stroke-width="1.9"/>
<path clip-path="url(#c2)" d="M59.53,568.5 L63.69,566.1 L67.84,563.7 L71.99,561.3 L76.14,559.0 L80.30,556.6 L84.45,554.2 L88.60,551.8 L92.75,549.5 L96.91,547.1 L101.06,544.7 L105.21,542.4 L109.36,540.0 L113.52,537.6 L117.67,535.3 L121.82,532.9 L125.97,530.6 L130.13,528.2 L134.28,525.9 L138.43,523.5 L142.58,521.2 L146.74,518.8 L150.89,516.5 L155.04,514.1 L159.20,511.8 L163.35,509.4 L167.50,507.0 L171.65,504.7 L175.81,502.3 L179.96,500.0 L184.11,497.6 L188.26,495.2 L192.42,492.8 L196.57,490.5 L200.72,488.1 L204.87,485.7 L209.03,483.3 L213.18,480.9 L217.33,478.5 L221.48,476.1 L225.64,473.7 L229.79,471.3 L233.94,468.9 L238.09,466.5 L242.25,464.1 L246.40,461.6 L250.55,459.2 L254.70,456.8 L258.86,454.3 L263.01,451.8 L267.16,449.4 L271.31,446.9 L275.47,444.4 L279.62,441.9 L283.77,439.4 L287.93,437.0 L292.08,434.5 L296.23,432.0 L300.38,429.5 L304.54,427.0 L308.69,424.5 L312.84,422.0 L316.99,419.5 L321.15,417.0 L325.30,414.5 L329.45,412.1 L333.60,409.6 L337.76,407.2 L341.91,404.7 L346.06,402.3 L350.21,399.9 L354.37,397.5 L358.52,395.1 L362.67,392.7 L366.82,390.3 L370.98,388.0 L375.13,385.6 L379.28,383.3 L383.43,380.9 L387.59,378.6 L391.74,376.3 L395.89,373.9 L400.04,371.5 L404.20,369.2 L408.35,366.8 L412.50,364.3 L416.66,361.9 L420.81,359.5 L424.96,357.0 L429.11,354.6 L433.27,352.1 L437.42,349.7 L441.57,347.2 L445.72,344.8 L449.88,342.3 L454.03,339.9 L458.18,337.4 L462.33,335.0 L466.49,332.5 L470.64,330.1 L474.79,327.7 L478.94,325.3 L483.10,322.9 L487.25,320.4 L491.40,318.0 L495.55,315.6 L499.71,313.2 L503.86,310.8 L508.01,308.4 L512.16,306.0 L516.32,303.6 L520.47,301.2 L524.62,298.8 L528.77,296.4 L532.93,294.0 L537.08,291.6 L541.23,289.2 L545.39,286.8 L549.54,284.4 L553.69,282.0 L557.84,279.6 L562.00,277.2 L566.15,274.8 L570.30,272.4 L574.45,269.9 L578.61,267.5 L582.76,265.1 L586.91,262.7 L591.06,260.4 L595.22,258.0 L599.37,255.7 L603.52,253.3 L607.67,251.0 L611.83,248.7 L615.98,246.5 L620.13,244.3 L624.28,242.0 L628.44,239.9 L632.59,237.7 L636.74,235.5 L640.89,233.3 L645.05,231.2 L649.20,229.0 L653.35,226.8 L657.50,224.6 L661.66,222.4 L665.81,220.2 L669.96,217.9 L674.12,215.6 L678.27,213.4 L682.42,211.0 L686.57,208.7 L690.73,206.4 L694.88,204.1 L699.03,201.8 L703.18,199.5 L707.34,197.3 L711.49,195.0 L715.64,192.8 L719.79,190.7 L723.95,188.5 L728.10,186.5 L732.25,184.4 L736.40,182.4 L740.56,180.4 L744.71,178.5 L748.86,176.6 L753.01,174.7 L757.17,172.8 L761.32,170.9 L765.47,169.1 L769.62,167.3 L773.78,165.5 L777.93,163.7 L782.08,161.9 L786.23,160.1 L790.39,158.4 L794.54,156.6 L798.69,154.9 L802.85,153.1 L807.00,151.4 L811.15,149.7 L815.30,148.0 L819.46,146.3 L823.61,144.6 L827.76,142.9 L831.91,141.2 L836.07,139.5 L840.22,137.8 L844.37,136.2 L848.52,134.5 L852.68,132.9 L856.83,131.2 L860.98,129.6 L865.13,127.9 L869.29,126.3 L873.44,124.7 L877.59,123.1 L881.74,121.4 L885.90,119.8 L890.05,118.2 L894.20,116.6 L898.35,115.1 L902.51,113.5 L906.66,112.0 L910.81,110.5 L914.96,109.0 L919.12,107.6 L923.27,106.2 L927.42,104.8 L931.58,103.5 L935.73,102.3 L939.88,101.1 L944.03,99.9 L948.19,98.8 L952.34,97.7 L956.49,96.7 L960.64,95.7 L964.80,94.7 L968.95,93.8 L973.10,92.9 L977.25,92.0 L981.41,91.2 L985.56,90.3 L989.71,89.5 L993.86,88.8 L998.02,88.0 L1002.17,87.3 L1006.32,86.7 L1010.47,86.0 L1014.63,85.4 L1018.78,84.9 L1022.93,84.4 L1027.08,83.9 L1031.24,83.5 L1035.39,83.1 L1039.54,82.8 L1043.69,82.6 L1047.85,82.4 L1052.00,82.2" stroke="#ff0000" stroke-width="5.0"/>
<path d="M91.20,38.6H152.20" stroke="#ff0000" stroke-width="5.0"/>
<path d="M91.20,58.9H152.20" stroke="#00ff00" stroke-width="3.1"/>
<path d="M91.20,79.2H152.20" stroke="#000" stroke-width="3.1"/>
<path d="M91.20,99.4H152.20" stroke="#0000ff" stroke-width="3.1"/>
<path d="M91.20,119.7H152.20" stroke="#00c8ff" stroke-width="3.1"/>
<path d="M91.20,140.0H152.20" stroke="#ff00ff" stroke-width="3.1"/>
<path d="M91.20,160.3H152.20" stroke="#ff8000" stroke-width="3.1"/>
</g>
<text transform="translate(247.00,43.65) scale(1.5170,0.9900)" font-size="20">Best-fit tSZ spectrum</text>
<text transform="translate(247.00,63.93) scale(1.5170,0.9900)" font-size="20">CMB paper - EM12 tSZ template</text>
<text transform="translate(247.00,84.21) scale(1.5170,0.9900)" font-size="20">Shaw et al. (2010)</text>
<text transform="translate(247.00,104.49) scale(1.5170,0.9900)" font-size="20">Battaglia et al. (2013)</text>
<text transform="translate(247.00,124.77) scale(1.5170,0.9900)" font-size="20">TBO2</text>
<text clip-path="url(#kt1)" transform="translate(247.00,145.05) scale(1.5170,0.9900)" font-size="20">TBO1</text>
<text transform="translate(247.00,165.33) scale(1.5170,0.9900)" font-size="20">K&amp;S (2002)</text>
<text clip-path="url(#k10)" transform="translate(524.56,624.54) scale(1.8936,1.3277)" font-size="20">10</text>
<text transform="translate(566.17,613.10) scale(2.0187,1.3612)" font-size="12.4">2</text>
<text clip-path="url(#k10)" transform="translate(1187.26,624.54) scale(1.8936,1.3277)" font-size="20">10</text>
<text transform="translate(1229.18,613.20) scale(1.8987,1.3813)" font-size="12.4">3</text>
<text clip-path="url(#k1)" transform="translate(73.80,87.26) scale(2.0075,1.2436) rotate(-90)" font-size="20">1</text>
<text clip-path="url(#k10)" transform="translate(74.10,356.89) scale(2.0075,1.2436) rotate(-90)" font-size="20">10</text>
<text clip-path="url(#ks1)" transform="translate(56.60,328.72) scale(1.9580,1.2130) rotate(-90)" font-size="12.4">-1</text>
<text clip-path="url(#k10)" transform="translate(74.10,613.29) scale(2.0075,1.2436) rotate(-90)" font-size="20">10</text>
<text transform="translate(56.90,585.42) scale(1.9768,1.2585) rotate(-90)" font-size="12.4">-2</text>
<text transform="translate(750.00,647.40) scale(1.7076,1.1600)" font-size="20">Multipole</text>
<text class="si" transform="translate(897.28,647.74) scale(1.6810,1.2752)" font-size="20">ℓ</text>
<text class="s" transform="translate(29.38,400.79) scale(1.8112,1.1700) rotate(-90)" font-size="20">10</text>
<text class="s" transform="translate(17.05,376.84) scale(1.2245,0.8876) rotate(-90)" font-size="20">12</text>
<text class="si" transform="translate(28.75,335.36) scale(1.8388,1.2463) rotate(-90)" font-size="20">ℓ</text>
<text class="s" transform="translate(28.92,324.48) scale(1.8866,1.1528) rotate(-90)" font-size="20">(</text>
<text class="si" transform="translate(28.77,317.11) scale(1.8392,1.2472) rotate(-90)" font-size="20">ℓ</text>
<text class="s" transform="translate(36.16,302.72) scale(2.4379,1.6677) rotate(-90)" font-size="20">+</text>
<text class="s" transform="translate(29.05,279.53) scale(1.7728,1.1524) rotate(-90)" font-size="20">1</text>
<text class="s" transform="translate(29.14,267.42) scale(1.8996,1.1859) rotate(-90)" font-size="20">)</text>
<text class="si" transform="translate(29.17,258.53) scale(1.9084,1.2893) rotate(-90)" font-size="20">C</text>
<text class="si" transform="translate(33.76,242.64) scale(1.3059,0.9282) rotate(-90)" font-size="20">ℓ</text>
<text class="s" transform="translate(36.55,232.41) scale(2.5573,1.7095) rotate(-90)" font-size="20">/</text>
<text class="s" transform="translate(29.05,222.09) scale(1.7679,1.2000) rotate(-90)" font-size="20">2</text>
<text class="si" transform="translate(28.88,210.13) scale(1.6337,1.2260) rotate(-90)" font-size="20">π</text>
</svg></body></html>
